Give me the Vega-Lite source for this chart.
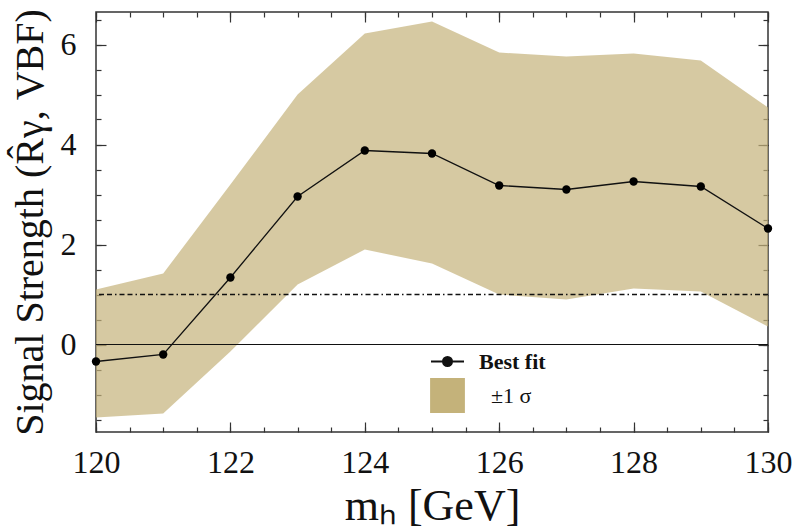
{
  "$schema": "https://vega.github.io/schema/vega-lite/v6.json",
  "width": 672,
  "height": 420,
  "autosize": {"type": "none"},
  "padding": {"left": 96, "top": 12, "right": 26, "bottom": 97},
  "config": {
    "view": {"stroke": "#333333", "strokeWidth": 1.5},
    "font": "Liberation Serif",
    "axis": {
      "grid": false,
      "domain": false,
      "tickColor": "#333333",
      "tickWidth": 1.2,
      "labelFont": "Liberation Serif",
      "titleFont": "Liberation Serif",
      "labelColor": "#111111",
      "titleColor": "#111111",
      "titleFontWeight": "normal",
      "labelFlush": false
    },
    "legend": {"symbolStrokeColor": "#111111", "symbolStrokeWidth": 1.8}
  },
  "data": {
    "values": [
      {"m": 120, "fit": -0.34, "lo": -1.46, "hi": 1.1},
      {"m": 121, "fit": -0.2, "lo": -1.38, "hi": 1.42},
      {"m": 122, "fit": 1.34, "lo": -0.14, "hi": 3.2},
      {"m": 123, "fit": 2.96, "lo": 1.2, "hi": 5.0},
      {"m": 124, "fit": 3.88, "lo": 1.9, "hi": 6.22},
      {"m": 125, "fit": 3.82, "lo": 1.62, "hi": 6.46},
      {"m": 126, "fit": 3.18, "lo": 1.0, "hi": 5.84},
      {"m": 127, "fit": 3.1, "lo": 0.9, "hi": 5.76},
      {"m": 128, "fit": 3.26, "lo": 1.12, "hi": 5.82},
      {"m": 129, "fit": 3.16, "lo": 1.06, "hi": 5.68},
      {"m": 130, "fit": 2.32, "lo": 0.36, "hi": 4.74}
    ]
  },
  "layer": [
    {
      "mark": {"type": "area", "opacity": 0.7},
      "encoding": {
        "x": {
          "field": "m", "type": "quantitative",
          "scale": {"domain": [120, 130], "nice": false, "zero": false},
          "axis": {"orient": "bottom", "values": [120, 122, 124, 126, 128, 130], "tickSize": -10, "labelFont": "Liberation Serif", "labelFontSize": 32, "labelPadding": 25, "title": "mₕ [GeV]", "titleFont": "Liberation Serif", "titleFontSize": 44, "titlePadding": 6}
        },
        "y": {
          "field": "lo", "type": "quantitative",
          "scale": {"domain": [-1.75, 6.65], "nice": false, "zero": false},
          "axis": {"orient": "left", "values": [0, 2, 4, 6], "tickSize": -10, "labelFont": "Liberation Serif", "labelFontSize": 32, "labelPadding": 30, "title": "Signal Strength (R̂γ, VBF)", "titleFont": "Liberation Serif", "titleFontSize": 40, "titlePadding": 10}
        },
        "y2": {"field": "hi"},
        "color": {
          "datum": "±1 σ", "type": "nominal",
          "scale": {"domain": ["Best fit", "±1 σ"], "range": ["#111111", "#c4b27a"]},
          "legend": {
            "orient": "none", "legendX": 334, "legendY": 332, "title": null,
            "labelFont": "Liberation Serif", "labelFontSize": 22, "labelColor": "#111111",
            "symbolSize": 1089, "rowPadding": 2, "labelOffset": 14, "padding": 0,
            "symbolStrokeWidth": 1.8, "symbolStrokeColor": "#111111", "symbolOpacity": 1,
            "encode": {
              "symbols": {"update": {
                "shape": {"signal": "datum.value === 'Best fit' ? 'M-1,0L1,0M0.28,0A0.28,0.28,0,1,1,-0.28,0A0.28,0.28,0,1,1,0.28,0Z' : 'square'"},
                "fill": {"signal": "datum.value === 'Best fit' ? '#111111' : '#c4b27a'"},
                "stroke": {"signal": "'#111111'"},
                "strokeWidth": {"signal": "1.8"},
                "strokeOpacity": {"value": 1},
                "fillOpacity": {"value": 1},
                "opacity": {"value": 1}
              }},
              "labels": {"update": {
                "fontWeight": {"signal": "datum.value === 'Best fit' ? 'bold' : 'normal'"},
                "dx": {"signal": "datum.value === 'Best fit' ? 0 : 12"}
              }}
            }
          }
        }
      }
    },
    {
      "data": {"values": [{"v": 0}]},
      "mark": {"type": "rule", "color": "#111111", "strokeWidth": 1.2},
      "encoding": {"y": {"field": "v", "type": "quantitative", "axis": null}}
    },
    {
      "data": {"values": [{"v": 1}]},
      "mark": {"type": "rule", "color": "#111111", "strokeWidth": 1.4, "strokeDash": [5, 3, 5, 3, 1.5, 3]},
      "encoding": {"y": {"field": "v", "type": "quantitative", "axis": null}}
    },
    {
      "mark": {"type": "line", "strokeWidth": 1.3},
      "encoding": {
        "x": {"field": "m", "type": "quantitative",
          "axis": {"orient": "bottom", "values": [120, 120.5, 121, 121.5, 122, 122.5, 123, 123.5, 124, 124.5, 125, 125.5, 126, 126.5, 127, 127.5, 128, 128.5, 129, 129.5, 130], "tickSize": -5, "labels": false, "title": null}},
        "y": {"field": "fit", "type": "quantitative",
          "axis": {"orient": "left", "values": [-1.5, -1, -0.5, 0, 0.5, 1, 1.5, 2, 2.5, 3, 3.5, 4, 4.5, 5, 5.5, 6, 6.5], "tickSize": -5, "labels": false, "title": null}},
        "color": {"datum": "Best fit", "type": "nominal"}
      }
    },
    {
      "mark": {"type": "circle", "size": 70, "color": "#000000", "opacity": 1},
      "encoding": {
        "x": {"field": "m", "type": "quantitative",
          "axis": {"orient": "top", "values": [120, 122, 124, 126, 128, 130], "tickSize": -10, "labels": false, "title": null}},
        "y": {"field": "fit", "type": "quantitative",
          "axis": {"orient": "right", "values": [0, 2, 4, 6], "tickSize": -10, "labels": false, "title": null}}
      }
    },
    {
      "mark": {"type": "circle", "size": 1, "opacity": 0},
      "encoding": {
        "x": {"field": "m", "type": "quantitative",
          "axis": {"orient": "top", "values": [120, 120.5, 121, 121.5, 122, 122.5, 123, 123.5, 124, 124.5, 125, 125.5, 126, 126.5, 127, 127.5, 128, 128.5, 129, 129.5, 130], "tickSize": -5, "labels": false, "title": null}},
        "y": {"field": "fit", "type": "quantitative",
          "axis": {"orient": "right", "values": [-1.5, -1, -0.5, 0, 0.5, 1, 1.5, 2, 2.5, 3, 3.5, 4, 4.5, 5, 5.5, 6, 6.5], "tickSize": -5, "labels": false, "title": null}}
      }
    }
  ],
  "resolve": {"axis": {"x": "independent", "y": "independent"}}
}
